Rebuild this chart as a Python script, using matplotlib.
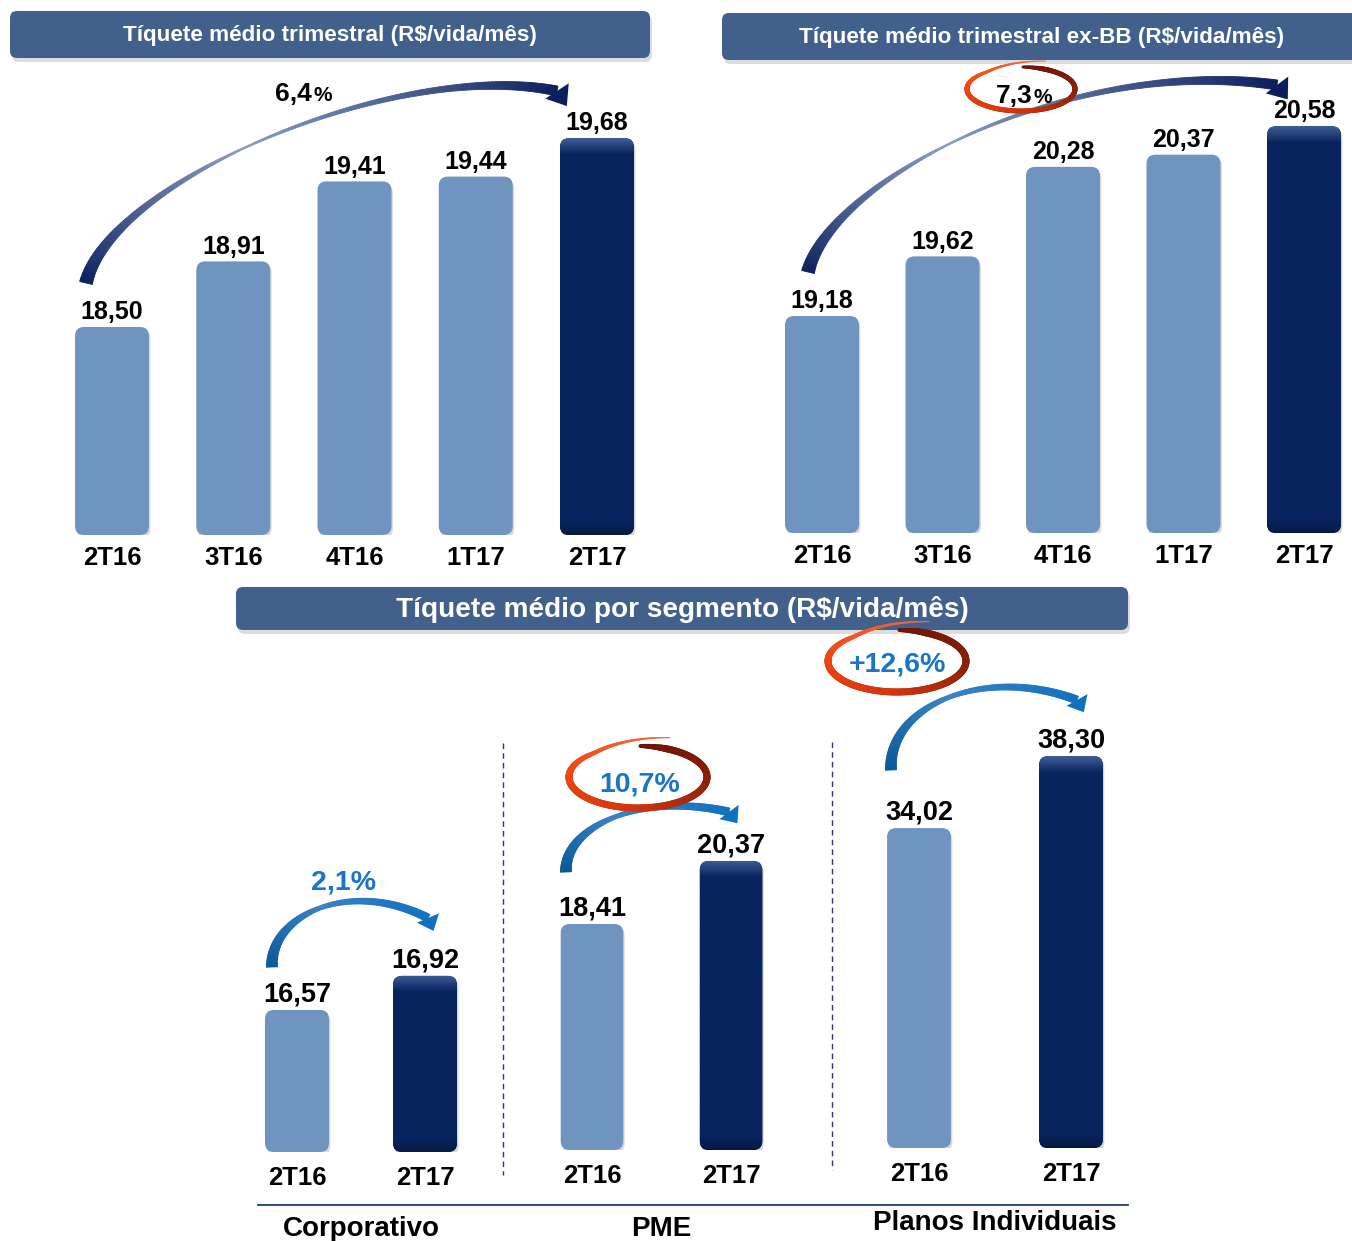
import numpy as np
import matplotlib
matplotlib.use("Agg")
import matplotlib.pyplot as plt
import matplotlib.transforms as mtransforms
import matplotlib.patheffects as pe
from matplotlib.patches import FancyBboxPatch, Polygon
from matplotlib.collections import LineCollection, PolyCollection
from matplotlib.colors import to_rgb

# ---- data ----
quarters = ["2T16", "3T16", "4T16", "1T17", "2T17"]
ticket_total = [18.50, 18.91, 19.41, 19.44, 19.68]
ticket_ex_bb = [19.18, 19.62, 20.28, 20.37, 20.58]
growth_total = "6,4"
growth_ex_bb = "7,3"

segments = ["Corporativo", "PME", "Planos Individuais"]
periods = ["2T16", "2T17"]
seg_2t16 = [16.57, 18.41, 34.02]
seg_2t17 = [16.92, 20.37, 38.30]
seg_growth = ["2,1%", "10,7%", "+12,6%"]

title_total = "Tíquete médio trimestral (R$/vida/mês)"
title_ex_bb = "Tíquete médio trimestral ex-BB (R$/vida/mês)"
title_seg = "Tíquete médio por segmento (R$/vida/mês)"

LIGHT = "#7094c0"
DARK = "#08245e"
HEADER = "#41618c"
BLUE_TXT = "#1a74c8"
NAVY = "#0a1f5c"

W, H = 1352, 1241
plt.rcParams["font.family"] = ["Liberation Sans", "DejaVu Sans"]

fig = plt.figure(figsize=(W / 100, H / 100), dpi=100)
# pixel coordinates measured from the top-left corner of the image
PX = mtransforms.Affine2D().scale(1 / W, -1 / H).translate(0, 1) + fig.transFigure


def fmt(v):
    return f"{v:.2f}".replace(".", ",")


def mix(stops, p):
    pos = [s[0] for s in stops]
    rgb = np.array([to_rgb(s[1]) for s in stops])
    return np.stack([np.interp(p, pos, rgb[:, k]) for k in range(3)], axis=-1)


def bar_panel(left, top, right, bottom, values, labels, base, ppu, width,
              val_size, tick_size, pad):
    ax = fig.add_axes([left / W, 1 - bottom / H, (right - left) / W, (bottom - top) / H])
    n = len(values)
    ax.set_xlim(-0.5, n - 0.5)
    ax.set_ylim(base, base + (bottom - top) / ppu)
    colors = [LIGHT] * (n - 1) + [DARK]
    bars = ax.bar(range(n), [v - base for v in values], width, bottom=base, color=colors)

    xdpp = n / (right - left)
    ydpp = 1 / ppu
    for rect, c in zip(bars, colors):
        box = FancyBboxPatch((rect.get_x(), rect.get_y()), rect.get_width(), rect.get_height(),
                             boxstyle=f"round,pad=0,rounding_size={9 * xdpp}",
                             mutation_aspect=ydpp / xdpp, fc=c, ec="none",
                             path_effects=[pe.SimplePatchShadow(offset=(1, -2), alpha=0.18),
                                           pe.Normal()])
        ax.add_patch(box)
        rect.set_visible(False)
        if c == DARK:
            hpx = rect.get_height() * ppu
            d = np.linspace(0, hpx, 300)
            f_top = np.clip(1 - d / 16, 0, 1)
            f_bot = np.clip((d - (hpx - 12)) / 12, 0, 1)
            img = (np.array(to_rgb(DARK)) * (1 - f_top[:, None])
                   + np.array(to_rgb("#3e5d98")) * f_top[:, None])
            img = img * (1 - 0.3 * f_bot[:, None])
            im = ax.imshow(img[:, None, :], extent=(rect.get_x(), rect.get_x() + rect.get_width(),
                                                     rect.get_y(), rect.get_y() + rect.get_height()),
                           origin="upper", aspect="auto", zorder=3)
            im.set_clip_path(box)

    for i, v in enumerate(values):
        ax.annotate(fmt(v), (i, v), xytext=(0, 2), textcoords="offset points",
                    ha="center", va="bottom", fontsize=val_size, fontweight="bold")

    ax.set_xlim(-0.5, n - 0.5)
    ax.set_ylim(base, base + (bottom - top) / ppu)
    ax.set_xticks(range(n))
    ax.set_xticklabels(labels, fontsize=tick_size, fontweight="bold")
    ax.tick_params(axis="x", length=0, pad=pad)
    ax.set_yticks([])
    for s in ax.spines.values():
        s.set_visible(False)
    ax.patch.set_visible(False)
    return ax


def header(x0, y0, x1, y1, text, size):
    fig.add_artist(FancyBboxPatch((x0 + 2, y0 + 4), x1 - x0, y1 - y0,
                                  boxstyle="round,pad=0,rounding_size=7", transform=PX,
                                  fc="#8c8c8c", ec="none", alpha=0.3))
    fig.add_artist(FancyBboxPatch((x0, y0), x1 - x0, y1 - y0,
                                  boxstyle="round,pad=0,rounding_size=7", transform=PX,
                                  fc=HEADER, ec="none"))
    fig.text((x0 + x1) / 2, (y0 + y1) / 2 + 1, text, transform=PX, ha="center", va="center",
             color="white", fontsize=size, fontweight="bold")


def bezier(P, t):
    P = np.asarray(P, float)
    t = t[:, None]
    return ((1 - t) ** 3 * P[0] + 3 * (1 - t) ** 2 * t * P[1]
            + 3 * (1 - t) * t ** 2 * P[2] + t ** 3 * P[3])


def bezier_d(P, t):
    P = np.asarray(P, float)
    t = t[:, None]
    return (3 * (1 - t) ** 2 * (P[1] - P[0]) + 6 * (1 - t) * t * (P[2] - P[1])
            + 3 * t ** 2 * (P[3] - P[2]))


def tapered_arrow(P, w_stops, c_stops, head_len, head_w, head_rot):
    t = np.linspace(0, 1, 160)
    pts = bezier(P, t)
    d = bezier_d(P, t)
    d /= np.linalg.norm(d, axis=1)[:, None]
    nrm = np.column_stack([-d[:, 1], d[:, 0]])
    w = np.interp(t, [s[0] for s in w_stops], [s[1] for s in w_stops])
    lft = pts + nrm * w[:, None] / 2
    rgt = pts - nrm * w[:, None] / 2
    quads = [np.array([lft[i], lft[i + 1], rgt[i + 1], rgt[i]]) for i in range(len(t) - 1)]
    cols = mix(c_stops, (t[:-1] + t[1:]) / 2)
    fig.add_artist(PolyCollection(quads, facecolors=cols, edgecolors=cols,
                                  linewidths=0.6, transform=PX))
    ang = np.arctan2(d[-1, 1], d[-1, 0]) + np.deg2rad(head_rot)
    u = np.array([np.cos(ang), np.sin(ang)])
    v = np.array([-u[1], u[0]])
    b = pts[-1]
    fig.add_artist(Polygon([b + v * head_w / 2, b + u * head_len, b - v * head_w / 2],
                           closed=True, transform=PX, fc=mix(c_stops, 1.0), ec="none"))


def swoosh(cx, cy, a, b, wmax):
    p = np.linspace(0, 1, 300)
    t = np.deg2rad(88 - 378 * p)
    grow = 1 + 0.35 * np.clip((p - 0.84) / 0.16, 0, 1) ** 1.3
    x = cx + a * grow * np.cos(t)
    y = cy - b * grow * np.sin(t)
    pts = np.column_stack([x, y])
    segs = np.stack([pts[:-1], pts[1:]], axis=1)
    pm = (p[:-1] + p[1:]) / 2
    w = wmax * (0.55 + 0.45 * np.clip(pm / 0.06, 0, 1)) * (1 - 0.85 * np.clip((pm - 0.72) / 0.28, 0, 1))
    cols = mix([(0, "#6e1406"), (0.28, "#8e2208"), (0.5, "#d6360e"),
                (0.72, "#ee4412"), (1, "#f26a3a")], pm)
    fig.add_artist(LineCollection(segs, linewidths=w * 0.72, colors=cols,
                                  capstyle="round", transform=PX))


# ---- headers ----
header(10, 11, 650, 58, title_total, 16.2)
header(722, 13, 1362, 60, title_ex_bb, 16.2)
header(236, 587, 1128, 630, title_seg, 20.2)

# ---- top panels ----
bar_panel(51.4, 60, 657.6, 535, ticket_total, quarters, 17.2, 160, 0.61, 18, 18.5, 8)
bar_panel(761.75, 60, 1364.25, 533, ticket_ex_bb, quarters, 17.58, 135.6, 0.614, 18, 18.5, 8)

navy_cols = [(0, NAVY), (0.45, "#8a9cc4"), (1, NAVY)]
tapered_arrow([(86, 283), (110, 180), (400, 58), (557, 91)],
              [(0, 13), (0.2, 7), (0.45, 1.5), (0.8, 6), (1, 10)], navy_cols, 18, 28, 45)
tapered_arrow([(808, 272), (830, 180), (1070, 55), (1277, 85)],
              [(0, 13), (0.2, 7), (0.45, 1.5), (0.8, 6), (1, 10)], navy_cols, 18, 28, 45)

fig.text(312, 101, growth_total, transform=PX, ha="right", va="baseline",
         fontsize=19, fontweight="bold")
fig.text(313, 101, "%", transform=PX, ha="left", va="baseline", fontsize=15, fontweight="bold")
swoosh(1021, 89, 54, 22, 5)
fig.text(1033, 103, growth_ex_bb, transform=PX, ha="right", va="baseline",
         fontsize=19, fontweight="bold")
fig.text(1034, 103, "%", transform=PX, ha="left", va="baseline", fontsize=15, fontweight="bold")

# ---- segment panels ----
seg_layout = [
    (233, 489, 1152, 15.11, 97.3, 0.5),
    (522.5, 800.5, 1150, 11.38, 32.15, 0.45),
    (843, 1147, 1148, 15.0, 16.82, 0.42),
]
name_y = [1229, 1229, 1223]
for k, (l, r, btm, base, ppu, bw) in enumerate(seg_layout):
    ax = bar_panel(l, 640, r, btm, [seg_2t16[k], seg_2t17[k]], periods, base, ppu, bw,
                   19.5, 18.5, 10)
    tr = mtransforms.blended_transform_factory(ax.transAxes, PX)
    ax.text(0.5, name_y[k], segments[k], transform=tr, ha="center", va="center",
            fontsize=20, fontweight="bold")

blue_cols = [(0, "#0a5898"), (0.5, "#3a82c4"), (1, "#1070c0")]
tapered_arrow([(272, 967), (270, 915), (350, 878), (428, 918)],
              [(0, 11), (0.5, 4), (1, 8)], blue_cols, 14, 24, 40)
tapered_arrow([(566, 872), (564, 825), (645, 792), (729, 812)],
              [(0, 11), (0.5, 4), (1, 8)], blue_cols, 14, 24, 40)
tapered_arrow([(891, 770), (888, 705), (985, 665), (1077, 700)],
              [(0, 11), (0.5, 4), (1, 8)], blue_cols, 14, 24, 40)

swoosh(638, 777, 69, 31, 7)
swoosh(897, 661, 69, 31, 7)
pct_pos = [(343, 883), (640, 785), (897, 665)]
for (x, y), s in zip(pct_pos, seg_growth):
    fig.text(x, y, s, transform=PX, ha="center", va="center", color=BLUE_TXT,
             fontsize=20.5, fontweight="bold")

# separators
for x, y0, y1 in [(503, 743, 1175), (832, 742, 1170)]:
    fig.add_artist(plt.Line2D([x, x], [y0, y1], transform=PX, color="#2e3192",
                              lw=1, ls=(0, (4, 3))))
fig.add_artist(plt.Line2D([258, 1128], [1205, 1205], transform=PX, color="#1f3c78", lw=1.3))

fig.savefig("out.png", dpi=100)
